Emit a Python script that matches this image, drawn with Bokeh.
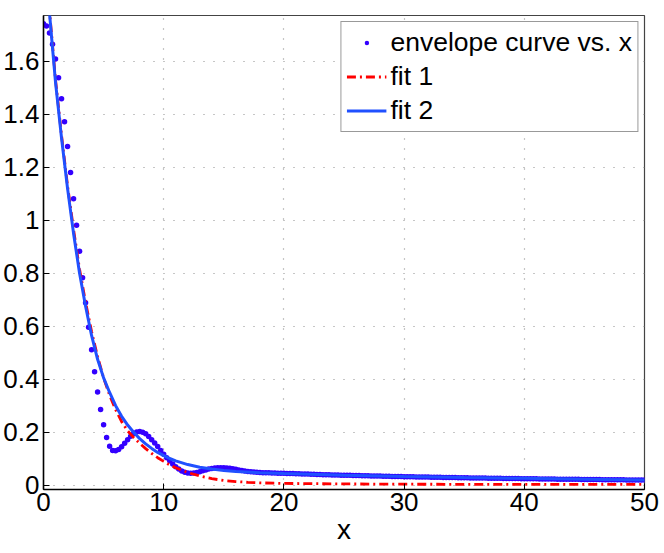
import numpy as np
from bokeh.plotting import figure
from bokeh.models import Range1d, FixedTicker, Legend, LegendItem
from bokeh.embed import file_html
from bokeh.resources import INLINE

# ---------------- data ----------------
env_y = [
    1.741, 1.732, 1.706, 1.664, 1.608, 1.537, 1.458, 1.371,
    1.278, 1.180, 1.081, 0.981, 0.883, 0.783, 0.688, 0.596,
    0.511, 0.428, 0.352, 0.286, 0.228, 0.180, 0.147, 0.131,
    0.130, 0.135, 0.145, 0.158, 0.172, 0.185, 0.195, 0.201,
    0.203, 0.200, 0.194, 0.184, 0.172, 0.159, 0.146, 0.131,
    0.117, 0.104, 0.092, 0.080, 0.070, 0.061, 0.054, 0.049,
    0.046, 0.045, 0.046, 0.048, 0.051, 0.055, 0.058, 0.061,
    0.063, 0.065, 0.066, 0.066, 0.066, 0.065, 0.064, 0.062,
    0.060, 0.058, 0.056, 0.054, 0.052, 0.051, 0.050, 0.049,
    0.048, 0.0476, 0.0472, 0.0469,
    0.0465, 0.0461, 0.0457, 0.0454,
    0.0450, 0.0446, 0.0442, 0.0439,
    0.0435, 0.0431, 0.0427, 0.0424,
    0.0420, 0.0416, 0.0412, 0.0409,
    0.0405, 0.0401, 0.0397, 0.0394,
    0.0390, 0.0387, 0.0385, 0.0382,
    0.0380, 0.0377, 0.0374, 0.0371,
    0.0368, 0.0365, 0.0362, 0.0359,
    0.0356, 0.0353, 0.0350, 0.0348,
    0.0345, 0.0342, 0.0340, 0.0337,
    0.0335, 0.0332, 0.0330, 0.0327,
    0.0325, 0.0323, 0.0320, 0.0318,
    0.0316, 0.0314, 0.0311, 0.0309,
    0.0307, 0.0305, 0.0302, 0.0300,
    0.0298, 0.0296, 0.0294, 0.0292,
    0.0290, 0.0288, 0.0286, 0.0284,
    0.0282, 0.0280, 0.0278, 0.0277,
    0.0275, 0.0273, 0.0271, 0.0270,
    0.0268, 0.0266, 0.0264, 0.0263,
    0.0261, 0.0259, 0.0257, 0.0256,
    0.0254, 0.0252, 0.0251, 0.0249,
    0.0248, 0.0246, 0.0245, 0.0243,
    0.0242, 0.0240, 0.0239, 0.0237,
    0.0236, 0.0234, 0.0233, 0.0231,
    0.0230, 0.0229, 0.0227, 0.0226,
    0.0225, 0.0224, 0.0222, 0.0221,
    0.0220, 0.0219, 0.0217, 0.0216,
    0.0215, 0.0214, 0.0212, 0.0211,
    0.0210, 0.0209, 0.0207, 0.0206,
    0.0205, 0.0204, 0.0202, 0.0201,
    0.0200, 0.0199, 0.0197, 0.0196,
    0.0195,
]
env_step = 0.25
env_x = [i * env_step for i in range(len(env_y))]

fit1_x = [0, 0.5, 1, 1.5, 2, 2.5, 3, 3.5, 4, 4.5, 5, 5.5, 6, 6.5, 7, 7.5,
          8, 8.5, 9, 9.5, 10, 10.5, 11, 11.5, 12, 13, 14, 15, 16, 17, 18,
          20, 25, 30, 40, 50]
fit1_y = [2.10, 1.79, 1.53, 1.32, 1.13, 0.965, 0.815, 0.69, 0.58, 0.485,
          0.405, 0.34, 0.285, 0.24, 0.205, 0.18, 0.158, 0.138, 0.12, 0.104,
          0.09, 0.077, 0.066, 0.057, 0.048, 0.035, 0.025, 0.018, 0.014,
          0.011, 0.009, 0.007, 0.005, 0.004, 0.003, 0.003]

fit2_x = [0, 0.5, 1, 1.5, 2, 2.5, 3, 3.5, 4, 4.5, 5, 5.5, 6, 6.5, 7, 7.5,
          8, 8.5, 9, 9.5, 10, 10.5, 11, 12, 13, 14, 15, 16, 18, 20, 25, 30,
          35, 40, 45, 50]
fit2_y = [2.10, 1.78, 1.52, 1.31, 1.12, 0.95, 0.80, 0.675, 0.565, 0.475,
          0.405, 0.35, 0.30, 0.26, 0.227, 0.20, 0.176, 0.156, 0.139, 0.124,
          0.112, 0.101, 0.092, 0.078, 0.068, 0.061, 0.056, 0.052, 0.047,
          0.044, 0.038, 0.033, 0.029, 0.026, 0.023, 0.020]

x_ticks = [0, 10, 20, 30, 40, 50]
y_ticks = [0, 0.2, 0.4, 0.6, 0.8, 1, 1.2, 1.4, 1.6]
y_tick_labels = ["0", "0.2", "0.4", "0.6", "0.8", "1", "1.2", "1.4", "1.6"]
x_range = (0, 50)
y_range = (-0.016, 1.772)

labels = ["envelope curve vs. x", "fit 1", "fit 2"]
x_label = "x"

# ---------------- figure ----------------
FONT = "Liberation Sans"
DOT = "#3300ff"

p = figure(frame_width=601, frame_height=474,
           output_backend="svg", toolbar_location=None,
           x_range=Range1d(*x_range), y_range=Range1d(*y_range),
           min_border_left=41, min_border_right=18, min_border_top=15,
           min_border_bottom=62)
p.background_fill_color = "white"
p.border_fill_color = "white"
p.outline_line_color = "#444444"
p.outline_line_width = 1.2

r_env = p.scatter(env_x, env_y, size=5.5, color=DOT, line_width=0)
r_f1 = p.line(fit1_x, fit1_y, line_color="#ff0000", line_width=2.8,
              line_dash="9 4 2 4")
r_f2 = p.line(fit2_x, fit2_y, line_color="#2050ff", line_width=3)

for ax in (p.xaxis[0], p.yaxis[0]):
    ax.major_tick_in = 6
    ax.major_tick_out = 0
    ax.minor_tick_line_color = None
    ax.axis_line_color = "black"
    ax.axis_line_width = 1.5
    ax.major_tick_line_color = "black"
    ax.major_label_text_font = FONT
    ax.major_label_text_font_size = "26px"
    ax.major_label_text_color = "black"

p.xaxis[0].major_label_standoff = 3
p.yaxis[0].major_label_standoff = 4
p.xaxis[0].ticker = FixedTicker(ticks=x_ticks)
p.yaxis[0].ticker = FixedTicker(ticks=y_ticks)
p.yaxis[0].major_label_overrides = {t: l for t, l in zip(y_ticks, y_tick_labels)}
p.xaxis[0].axis_label = x_label
p.xaxis[0].axis_label_text_font = FONT
p.xaxis[0].axis_label_text_font_size = "28px"
p.xaxis[0].axis_label_text_font_style = "normal"
p.xaxis[0].axis_label_text_color = "black"
p.xaxis[0].axis_label_standoff = 0

p.xgrid.ticker = FixedTicker(ticks=x_ticks)
p.ygrid.ticker = FixedTicker(ticks=y_ticks)
p.grid.grid_line_color = "#8c8c8c"
p.grid.grid_line_dash = "1 9"
p.grid.grid_line_width = 1.2

legend = Legend(items=[LegendItem(label=labels[0], renderers=[r_env]),
                       LegendItem(label=labels[1], renderers=[r_f1]),
                       LegendItem(label=labels[2], renderers=[r_f2])],
                location="top_right")
legend.margin = 6
legend.padding = 5
legend.spacing = 3
legend.glyph_width = 40
legend.glyph_height = 11
legend.label_height = 28
legend.label_standoff = 4
legend.label_text_font = FONT
legend.label_text_font_size = "26.5px"
legend.label_text_color = "black"
legend.border_line_color = "#333333"
legend.border_line_width = 1.2
legend.background_fill_alpha = 1
p.add_layout(legend)

open("out.html", "w").write(file_html(p, INLINE))
